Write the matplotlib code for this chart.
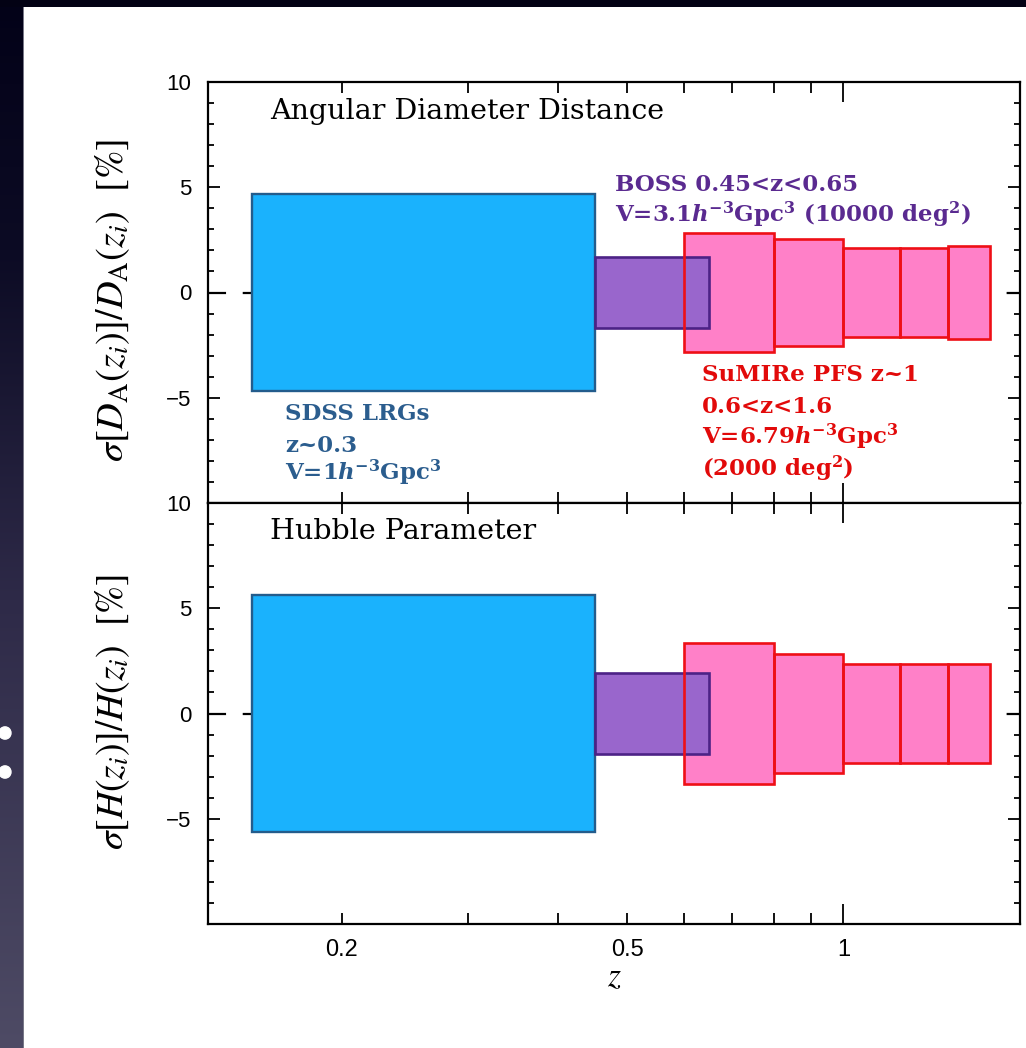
import numpy as np
import matplotlib
matplotlib.use("Agg")
import matplotlib.pyplot as plt
from matplotlib.ticker import FixedLocator, FixedFormatter
from matplotlib.patches import Circle

plt.rcParams['lines.scale_dashes'] = False

# ---------------- data ----------------
sdss_zlo = [0.15]
sdss_zhi = [0.45]
sdss_err_DA = [4.7]
sdss_err_H = [5.65]

boss_zlo = [0.45]
boss_zhi = [0.65]
boss_err_DA = [1.7]
boss_err_H = [1.93]

pfs_zlo = [0.6, 0.8, 1.0, 1.2, 1.4]
pfs_zhi = [0.8, 1.0, 1.2, 1.4, 1.6]
pfs_err_DA = [2.83, 2.54, 2.13, 2.12, 2.2]
pfs_err_H = [3.34, 2.85, 2.35, 2.33, 2.35]

x_minor_ticks = [0.2, 0.3, 0.4, 0.5, 0.6, 0.7, 0.8, 0.9]
x_minor_labels = ['0.2', '', '', '0.5', '', '', '', '']
x_major_ticks = [1.0]
x_major_labels = ['1']
y_major_ticks = [-10, -5, 0, 5, 10]
y_major_labels = ['', '\u22125', '0', '5', '10']

# ---------------- style ----------------
c_blue_fill, c_blue_edge = '#1ab2fd', '#235c8c'
c_purp_fill, c_purp_edge = '#9966cc', '#4c2286'
c_pink_fill, c_pink_edge = '#ff80c8', '#ee0f16'
c_blue_txt, c_purp_txt, c_red_txt = '#2b5d8e', '#5a2a90', '#e20a0a'

W, H = 1026, 1048
fig = plt.figure(figsize=(W / 100, H / 100), dpi=100)

# slide background (dark frame on top / left)
bg = np.ones((H, W, 3))
top_col = np.array([3, 2, 20]) / 255
yy = np.arange(H)
stops_y = [0, 250, 600, 1048]
stops_c = np.array([[3, 2, 24], [12, 11, 36], [46, 42, 72], [78, 75, 101]]) / 255
left = np.stack([np.interp(yy, stops_y, stops_c[:, k]) for k in range(3)], axis=1)
bg[:, :23, :] = left[:, None, :]
bg[:, 23, :] = np.array([120, 120, 135]) / 255
bg[:7, :, :] = top_col
bgax = fig.add_axes([0, 0, 1, 1], zorder=-10)
bgax.imshow(bg, aspect='auto', extent=(0, W, H, 0), interpolation='nearest')
bgax.set_axis_off()
for cy in (733, 772):
    fig.patches.append(Circle((5 / W, 1 - cy / H), 6 / W, transform=fig.transFigure,
                              color='white', zorder=5))

ax_l, ax_r = 208 / W, 1020 / W
ax_top = fig.add_axes([ax_l, 1 - 503 / H, ax_r - ax_l, 421 / H])
ax_bot = fig.add_axes([ax_l, 1 - 924 / H, ax_r - ax_l, 421 / H], sharex=ax_top)


def draw_boxes(ax, zlo, zhi, err, fc, ec, lw, zf, ze):
    zlo = np.array(zlo); zhi = np.array(zhi); err = np.array(err)
    ax.bar(zlo, 2 * err, width=zhi - zlo, bottom=-err, align='edge',
           color=fc, edgecolor='none', zorder=zf)
    ax.bar(zlo, 2 * err, width=zhi - zlo, bottom=-err, align='edge',
           fill=False, edgecolor=ec, linewidth=lw, zorder=ze)


sans = ['Liberation Sans']
for ax, e_s, e_b, e_p in ((ax_top, sdss_err_DA, boss_err_DA, pfs_err_DA),
                          (ax_bot, sdss_err_H, boss_err_H, pfs_err_H)):
    ax.set_xscale('log')
    ax.axhline(0, color='black', lw=1.6, dashes=(13, 12), zorder=1)
    draw_boxes(ax, sdss_zlo, sdss_zhi, e_s, c_blue_fill, c_blue_edge, 1.7, 2, 3)
    draw_boxes(ax, pfs_zlo, pfs_zhi, e_p, c_pink_fill, c_pink_edge, 1.9, 2, 4)
    draw_boxes(ax, boss_zlo, boss_zhi, e_b, c_purp_fill, c_purp_edge, 1.9, 2.5, 3.5)
    ax.set_xlim(0.1302, 1.762)
    ax.set_ylim(-10, 10)
    ax.xaxis.set_major_locator(FixedLocator(x_major_ticks))
    ax.xaxis.set_minor_locator(FixedLocator(x_minor_ticks))
    ax.yaxis.set_major_locator(FixedLocator(y_major_ticks))
    ax.yaxis.set_minor_locator(FixedLocator(list(range(-10, 11))))
    ax.yaxis.set_major_formatter(FixedFormatter(y_major_labels))
    ax.tick_params(axis='both', which='both', direction='in', top=True, right=True,
                   width=1.3, color='black')
    ax.tick_params(axis='y', which='major', length=8.6, pad=12, labelsize=16)
    ax.tick_params(axis='y', which='minor', length=4.3)
    ax.tick_params(axis='x', which='major', length=14.4, pad=11, labelsize=17)
    ax.tick_params(axis='x', which='minor', length=8, pad=11, labelsize=17)
    for lab in ax.get_yticklabels():
        lab.set_family(sans)
    for sp in ax.spines.values():
        sp.set_linewidth(1.6)

ax_top.tick_params(axis='x', which='both', labelbottom=False)
ax_bot.xaxis.set_major_formatter(FixedFormatter(x_major_labels))
ax_bot.xaxis.set_minor_formatter(FixedFormatter(x_minor_labels))
for lab in ax_bot.get_xticklabels(which='both'):
    lab.set_family(sans)

# axis labels
ax_top.set_ylabel(r'$\sigma[D_{\rm A}(z_i)]/D_{\rm A}(z_i)$  [%]', fontsize=27.5,
                  math_fontfamily='stix', family='STIXGeneral', va='center')
ax_bot.set_ylabel(r'$\sigma[H(z_i)]/H(z_i)$  [%]', fontsize=27,
                  math_fontfamily='stix', family='STIXGeneral', va='center')
ax_top.yaxis.set_label_coords(-0.118, 0.482)
ax_bot.yaxis.set_label_coords(-0.118, 0.503)
ax_bot.set_xlabel(r'$z$', fontsize=24, math_fontfamily='stix')
ax_bot.xaxis.set_label_coords(0.5, -0.085)

# panel titles
title_kw = dict(family='DejaVu Serif', fontsize=20.5, va='baseline', ha='left')
ax_top.text(0.076, 0.912, 'Angular Diameter Distance', transform=ax_top.transAxes, **title_kw)
ax_bot.text(0.076, 0.914, 'Hubble Parameter', transform=ax_bot.transAxes, **title_kw)

# survey annotations
ann_kw = dict(family='DejaVu Serif', fontweight='bold', fontsize=16.5, va='baseline',
              ha='left', math_fontfamily='dejavuserif')
hm3 = r'$\mathbfit{h}^{\mathbf{-3}}$'
cube = r'$^{\mathbf{3}}$'
sq = r'$^{\mathbf{2}}$'

ax_top.text(0.501, 0.742, 'BOSS 0.45<z<0.65', color=c_purp_txt,
            transform=ax_top.transAxes, **ann_kw)
ax_top.text(0.501, 0.666, 'V=3.1' + hm3 + 'Gpc' + cube + ' (10000 deg' + sq + ')',
            color=c_purp_txt, transform=ax_top.transAxes, **ann_kw)

pfs_lines = ['SuMIRe PFS z~1', '0.6<z<1.6', 'V=6.79' + hm3 + 'Gpc' + cube,
             '(2000 deg' + sq + ')']
for t, yb in zip(pfs_lines, [0.289, 0.214, 0.139, 0.064]):
    ax_top.text(0.608, yb, t, color=c_red_txt, transform=ax_top.transAxes, **ann_kw)

sdss_lines = ['SDSS LRGs', 'z~0.3', 'V=1' + hm3 + 'Gpc' + cube]
for t, yb in zip(sdss_lines, [0.197, 0.122, 0.055]):
    ax_top.text(0.095, yb, t, color=c_blue_txt, transform=ax_top.transAxes, **ann_kw)

fig.savefig('out.png', dpi=100)
